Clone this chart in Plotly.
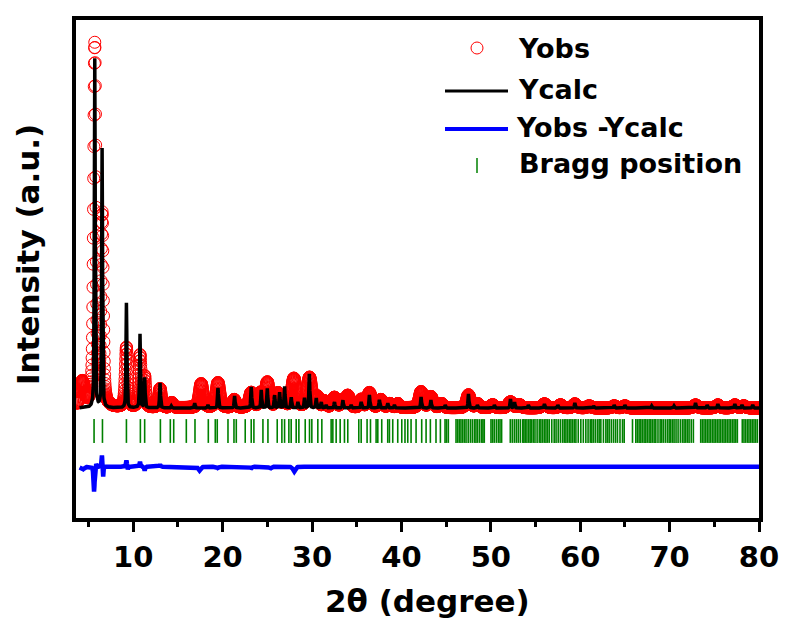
import numpy as np
import plotly.graph_objects as go

# ── Picos (2θ em graus, intensidade em contagens) ─────────────────────────────
CALC_POS = [5.70, 6.52, 9.24, 10.76, 11.28, 13.00, 14.26, 16.87, 18.36, 19.48,
            21.34, 23.20, 24.32, 24.99, 25.81, 26.37, 26.93, 27.67, 28.42, 29.16,
            29.70, 30.47, 31.03, 31.58, 32.51, 33.45, 34.38, 35.50, 36.42, 37.54,
            38.47, 39.22, 42.20, 43.30, 44.90, 47.50, 48.50, 50.40, 52.20, 52.65,
            54.20, 56.00, 57.50, 59.40, 61.50, 63.80, 65.00, 68.00, 70.50, 72.90,
            74.20, 75.40, 77.30, 78.10, 79.30]
CALC_INT = [10470, 7770, 3150, 2220, 900, 750, 60, 150, 90, 600,
            360, 630, 540, 600, 390, 480, 660, 330, 180, 300,
            1020, 300, 180, 90, 180, 240, 90, 180, 390, 240,
            150, 90, 330, 240, 90, 420, 90, 90, 270, 180,
            90, 120, 90, 150, 60, 90, 90, 60, 60, 150,
            90, 120, 120, 90, 90]

OBS_POS = [4.30, 5.70, 6.52, 9.24, 10.76, 11.28, 13.00, 14.30, 17.60, 19.48,
           21.30, 23.20, 24.25, 25.00, 26.20, 26.90, 27.97, 29.72, 30.60, 31.40,
           32.50, 33.40, 34.00, 35.50, 36.42, 37.70, 38.70, 39.60, 42.20, 43.30,
           44.50, 47.50, 48.50, 50.20, 52.20, 53.20, 56.00, 57.80, 59.40, 61.00,
           63.80, 65.00, 72.90, 75.40, 77.30, 78.30]
OBS_INT = [750, 10860, 5700, 1800, 1560, 900, 570, 150, 720, 750,
           240, 450, 420, 750, 420, 300, 870, 900, 300, 180,
           300, 210, 360, 240, 450, 240, 120, 120, 480, 330,
           120, 390, 120, 90, 180, 90, 120, 90, 120, 60,
           60, 60, 90, 90, 90, 60]
OBS_FWHM = [0.6, 0.3, 0.3, 0.3, 0.3, 0.25, 0.35, 0.4, 0.5, 0.5,
            0.4, 0.5, 0.4, 0.5, 0.5, 0.3, 0.6, 0.6, 0.4, 0.4,
            0.5, 0.4, 0.5, 0.4, 0.5, 0.5, 0.5, 0.4, 0.5, 0.5,
            0.5, 0.5, 0.5, 0.5, 0.6, 0.5, 0.6, 0.5, 0.5, 0.5,
            0.5, 0.5, 0.5, 0.5, 0.5, 0.5]

DIFF_POS = [4.30, 5.62, 5.85, 6.50, 6.63, 9.24, 9.40, 10.76, 11.28, 13.00,
            17.40, 19.50, 23.20, 25.30, 28.00]
DIFF_AMP = [-90, -750, 120, 360, -330, 195, -90, 150, -120, 60,
            -120, -45, -45, -60, -150]
DIFF_FWHM = [0.4, 0.15, 0.12, 0.10, 0.10, 0.12, 0.12, 0.12, 0.12, 0.12,
             0.3, 0.2, 0.2, 0.3, 0.3]

BRAGG_POS = [5.62, 6.56, 9.24, 10.80, 11.28, 13.04, 14.15, 14.53, 15.94, 16.91,
             18.40, 19.18, 19.40, 20.60, 21.27, 21.53, 22.53, 23.20, 23.50, 24.51,
             25.07, 26.11, 26.63, 26.93, 27.41, 27.67, 28.23, 28.53, 29.24, 29.72,
             29.98, 30.65, 31.10, 32.14, 32.33, 32.70, 33.15, 33.63, 34.00, 35.23,
             35.50, 36.16, 36.54, 37.17, 37.36, 37.80, 38.47, 38.66, 39.03, 39.59,
             40.04, 40.40, 40.71, 41.08, 41.64, 42.27, 42.76, 43.24, 43.87, 44.36,
             44.88, 45.05, 45.25, 46.11, 46.30, 46.48, 46.66, 46.85, 47.04, 47.23,
             47.47, 47.71, 47.93, 48.16, 48.34, 48.53, 48.75, 48.97, 49.12, 49.27,
             50.02, 50.20, 50.39, 50.62, 50.84, 51.03, 51.21, 52.18, 52.40, 52.63,
             52.85, 53.07, 53.30, 53.56, 53.70, 53.85, 54.04, 54.23, 54.40, 54.56,
             54.75, 54.94, 55.18, 55.42, 55.60, 55.79, 55.98, 56.17, 56.35, 56.54,
             56.82, 57.09, 57.30, 57.54, 57.78, 58.02, 58.21, 58.40, 58.58, 58.77,
             58.96, 59.14, 59.33, 59.52, 59.78, 60.07, 60.35, 60.63, 60.88, 61.12,
             61.30, 61.49, 61.70, 61.93, 62.12, 62.31, 62.60, 62.87, 63.05, 63.24,
             63.48, 63.72, 63.95, 64.17, 64.45, 64.73, 64.92, 65.85, 66.22, 66.40,
             66.59, 66.78, 66.96, 67.15, 67.34, 67.52, 67.71, 67.90, 68.08, 68.27,
             68.46, 68.70, 68.94, 69.12, 69.31, 69.53, 69.75, 69.95, 70.13, 70.32,
             70.50, 70.72, 70.95, 71.20, 71.43, 71.62, 71.81, 72.00, 72.18, 72.42,
             72.66, 73.48, 73.66, 73.85, 74.04, 74.22, 74.41, 74.60, 74.79, 74.97,
             75.16, 75.34, 75.53, 75.72, 75.91, 76.09, 76.28, 76.46, 76.65, 76.84,
             77.03, 77.21, 77.40, 77.58, 78.13, 78.32, 78.51, 78.70, 78.88, 79.07,
             79.25, 79.44, 79.63, 79.82]

X_TICKS = [10, 20, 30, 40, 50, 60, 70, 80]
LEGEND_LABELS = ["Yobs", "Ycalc", "Yobs -Ycalc", "Bragg position"]

# ── Constantes de desenho ─────────────────────────────────────────────────────
STEP = 0.02
CALC_FWHM = 0.12
DIFF_OFFSET = -1760
BRAGG_LEVEL = -690
FONT = "DejaVu Sans"

W, H = 786, 622
PL, PR, PT, PB = 76, 759, 20, 518   # área do gráfico em pixels


def _profile(x, pos, amp, fwhm, eta=0.5):
    y = np.zeros_like(x)
    for p, a, w in zip(pos, amp, fwhm):
        d = (x - p) / (w / 2)
        y += a * (eta / (1 + d ** 2) + (1 - eta) * np.exp(-np.log(2) * d ** 2))
    return y


def _px(x):
    return (x - PL) / (PR - PL)


def _py(y):
    return (PB - y) / (PB - PT)


x_obs = np.round(np.arange(3.7, 80.0 + 1e-9, STEP), 3)
x_calc = np.round(np.arange(4.0, 80.0 + 1e-9, STEP), 3)
y_obs = _profile(x_obs, OBS_POS, OBS_INT, OBS_FWHM)
y_calc = _profile(x_calc, CALC_POS, CALC_INT, [CALC_FWHM] * len(CALC_POS))
y_diff = DIFF_OFFSET + _profile(x_calc, DIFF_POS, DIFF_AMP, DIFF_FWHM)

fig = go.Figure()
fig.add_trace(go.Scatter(
    x=x_obs, y=y_obs, mode="markers", name=LEGEND_LABELS[0],
    marker=dict(symbol="circle-open", size=12, color="#ff0000",
                line=dict(width=1, color="#ff0000")),
))
fig.add_trace(go.Scatter(
    x=x_calc, y=y_calc, mode="lines", name=LEGEND_LABELS[1],
    line=dict(width=3.5, color="#000000"),
))
fig.add_trace(go.Scatter(
    x=BRAGG_POS, y=[BRAGG_LEVEL] * len(BRAGG_POS), mode="markers",
    name=LEGEND_LABELS[3],
    marker=dict(symbol="line-ns", size=17, line=dict(width=1.6, color="#008000")),
))
fig.add_trace(go.Scatter(
    x=x_calc, y=y_diff, mode="lines", name=LEGEND_LABELS[2],
    line=dict(width=4.5, color="#0000ff"),
))

# ── Legenda desenhada à mão (símbolos longos como no original) ───────────────
shapes = [
    dict(type="circle", xref="paper", yref="paper",
         x0=_px(471), x1=_px(483), y0=_py(54), y1=_py(42),
         line=dict(color="#ff0000", width=1)),
    dict(type="line", xref="paper", yref="paper",
         x0=_px(445), x1=_px(508), y0=_py(91), y1=_py(91),
         line=dict(color="#000000", width=3)),
    dict(type="line", xref="paper", yref="paper",
         x0=_px(445), x1=_px(508), y0=_py(129), y1=_py(129),
         line=dict(color="#0000ff", width=4)),
    dict(type="line", xref="paper", yref="paper",
         x0=_px(477), x1=_px(477), y0=_py(173), y1=_py(158),
         line=dict(color="#008000", width=1.5)),
]
annotations = []
for lab, lx, ly in zip(LEGEND_LABELS, [516, 516, 514, 517], [48, 90, 127, 163]):
    annotations.append(dict(
        text=lab, x=_px(lx), y=_py(ly), xref="paper", yref="paper",
        xanchor="left", yanchor="middle", showarrow=False,
        font=dict(family=FONT, size=27, color="#000000", weight="bold"),
    ))
annotations.append(dict(
    text="2θ (degree)", x=_px(427), y=_py(601), xref="paper", yref="paper",
    xanchor="center", yanchor="middle", showarrow=False,
    font=dict(family=FONT, size=31, color="#000000", weight="bold"),
))
annotations.append(dict(
    text="Intensity (a.u.)", x=_px(28), y=_py(255), xref="paper", yref="paper",
    xanchor="center", yanchor="middle", showarrow=False, textangle=-90,
    font=dict(family=FONT, size=31, color="#000000", weight="bold"),
))

fig.update_layout(
    width=W, height=H,
    margin=dict(l=PL, r=W - PR, t=PT, b=H - PB, pad=0),
    paper_bgcolor="#ffffff",
    plot_bgcolor="#ffffff",
    showlegend=False,
    shapes=shapes,
    annotations=annotations,
    font=dict(family=FONT, color="#000000"),
)
fig.update_xaxes(
    range=[3.6, 80.0001], automargin=False,
    tickvals=X_TICKS, ticktext=[str(t) for t in X_TICKS],
    ticks="outside", ticklen=10, tickwidth=3, tickcolor="#000000",
    minor=dict(tickvals=[5, 15, 25, 35, 45, 55, 65, 75], ticks="outside",
               ticklen=5, tickwidth=3, tickcolor="#000000"),
    tickfont=dict(family=FONT, size=29, color="#000000", weight="bold"),
    showline=True, linewidth=4, linecolor="#000000", mirror=True,
    showgrid=False, zeroline=False,
)
fig.update_yaxes(
    range=[-3300, 11640], automargin=False,
    showticklabels=False, ticks="",
    showline=True, linewidth=4, linecolor="#000000", mirror=True,
    showgrid=False, zeroline=False,
)

fig.write_html("out.html", config={"displayModeBar": False},
               post_script="document.body.style.margin='0px';")
